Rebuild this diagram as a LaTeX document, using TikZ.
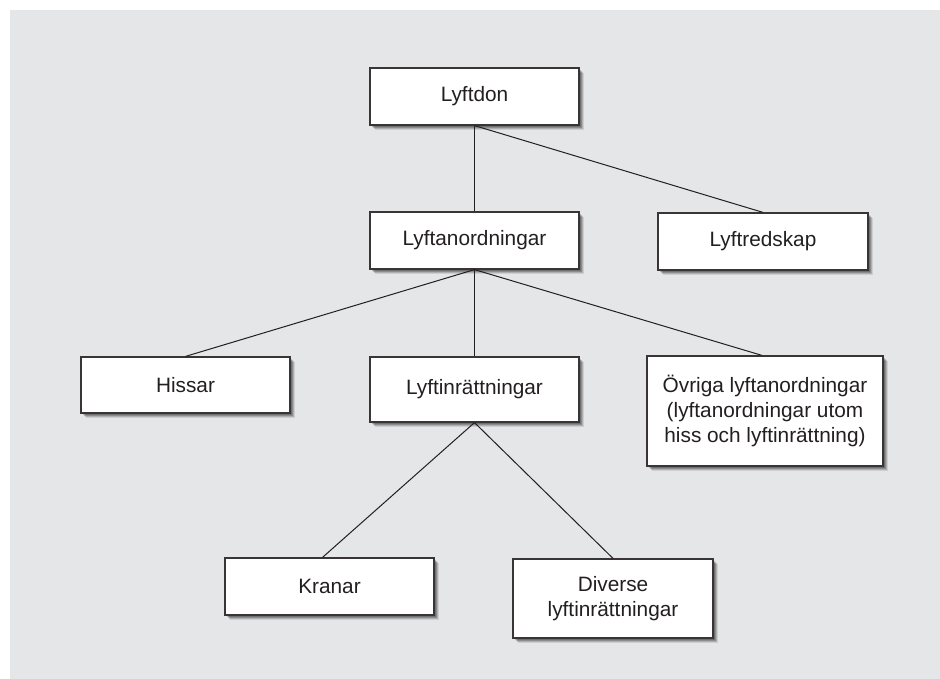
\documentclass[tikz,border=0pt]{standalone}
\usepackage{fontspec}
\setmainfont{Liberation Sans}
\usetikzlibrary{shadows}
\definecolor{panel}{HTML}{E5E6E8}
\definecolor{ink}{HTML}{231F20}
\tikzset{
  box/.style={draw=ink!90, line width=1.2pt, fill=white, rectangle, inner sep=0pt,
    minimum width=209pt, minimum height=57pt, align=center, text=ink,
    font=\fontsize{20.8pt}{25pt}\selectfont,
    drop shadow={shadow xshift=5pt, shadow yshift=-5pt, fill=black, opacity=0.10},
    drop shadow={shadow xshift=4pt, shadow yshift=-4pt, fill=black, opacity=0.15},
    drop shadow={shadow xshift=3pt, shadow yshift=-3pt, fill=black, opacity=0.2},
    drop shadow={shadow xshift=2pt, shadow yshift=-2pt, fill=black, opacity=0.2}},
  link/.style={draw=ink, line width=1pt}
}
\begin{document}
\begin{tikzpicture}[x=1pt,y=-1pt]
\useasboundingbox (0,0) rectangle (940,679);
\fill[panel] (10,10) rectangle (940,679);
\node[box] (lyftdon) at (474.5,96.5) {Lyftdon};
\node[box] (anord) at (474.5,240.5) {Lyftanordningar};
\node[box, minimum width=210pt] (redskap) at (763,241.5) {Lyftredskap};
\node[box, minimum height=56pt] (hissar) at (185.5,385) {Hissar};
\node[box, minimum height=65pt] (inr) at (474.5,389.5) {Lyftinrättningar};
\node[box, minimum width=236pt, minimum height=110pt] (ovriga) at (765,411) {Övriga lyftanordningar\\(lyftanordningar utom\\hiss och lyftinrättning)};
\node[box] (kranar) at (329.5,586.5) {Kranar};
\node[box, minimum width=200pt, minimum height=79pt] (diverse) at (613,598.5) {Diverse\\lyftinrättningar};
\draw[link] (lyftdon.south) -- (anord.north);
\draw[link] (lyftdon.south) -- (redskap.north);
\draw[link] (anord.south) -- (hissar.north);
\draw[link] (anord.south) -- (inr.north);
\draw[link] (anord.south) -- ([xshift=-3pt]ovriga.north);
\draw[link] (inr.south) -- ([xshift=-7pt]kranar.north);
\draw[link] (inr.south) -- (diverse.north);
\end{tikzpicture}
\end{document}
